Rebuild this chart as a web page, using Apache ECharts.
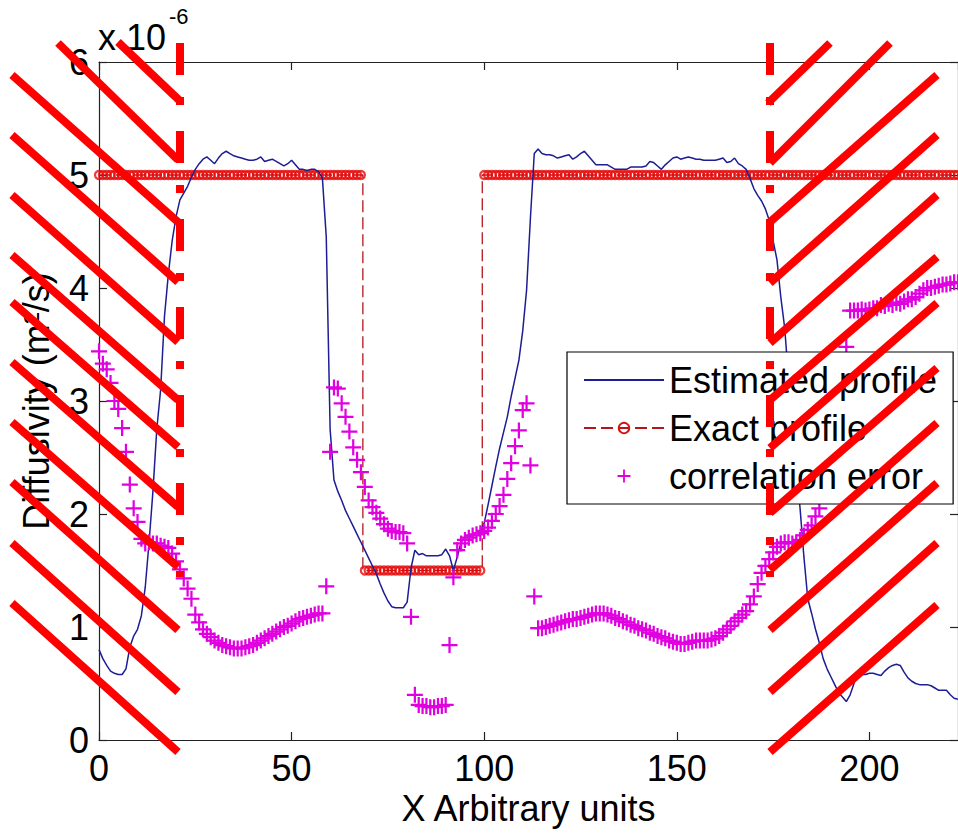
<!DOCTYPE html>
<html>
<head>
<meta charset="utf-8">
<script src="https://cdn.jsdelivr.net/npm/echarts@6/dist/echarts.min.js"></script>
<style>
html,body{margin:0;padding:0;background:#fff;}
#chart{width:958px;height:836px;}
</style>
</head>
<body>
<div id="chart"></div>
<script>
// ---- data (x = 0,1,2,... arbitrary units; y in units of 1e-6 m^2/s) ----
const estimated = [
0.80,0.72,0.66,0.61,0.59,0.58,0.58,0.63,0.82,0.92,
0.98,1.10,1.35,1.75,2.20,2.75,3.10,3.75,4.12,4.42,
4.63,4.78,4.84,4.90,4.98,5.05,5.10,5.14,5.16,5.13,
5.10,5.15,5.19,5.21,5.19,5.17,5.16,5.15,5.14,5.13,
5.13,5.14,5.16,5.12,5.13,5.14,5.12,5.10,5.08,5.10,
5.13,5.09,5.05,5.05,5.04,5.05,5.05,5.03,4.97,4.45,
2.75,2.30,2.20,2.12,2.03,1.96,1.89,1.82,1.75,1.68,
1.61,1.54,1.47,1.38,1.30,1.23,1.18,1.17,1.17,1.17,
1.22,1.52,1.68,1.64,1.65,1.63,1.63,1.63,1.63,1.64,
1.69,1.63,1.50,1.62,1.75,1.79,1.80,1.81,1.82,1.84,
1.92,2.08,2.25,2.42,2.58,2.72,2.86,3.04,3.20,3.36,
3.62,3.98,4.62,5.19,5.23,5.19,5.18,5.18,5.17,5.15,
5.16,5.17,5.18,5.14,5.16,5.19,5.21,5.17,5.13,5.09,
5.09,5.09,5.09,5.07,5.05,5.05,5.05,5.05,5.07,5.07,
5.07,5.07,5.08,5.12,5.11,5.08,5.05,5.09,5.12,5.15,
5.16,5.14,5.15,5.16,5.15,5.14,5.14,5.13,5.13,5.13,
5.13,5.14,5.15,5.11,5.12,5.15,5.10,5.08,5.05,4.97,
4.88,4.82,4.77,4.70,4.60,4.42,4.25,3.92,3.65,3.20,
2.80,2.40,2.05,1.62,1.25,1.12,0.98,0.86,0.72,0.63,
0.56,0.49,0.42,0.38,0.34,0.40,0.50,0.59,0.58,0.58,
0.59,0.59,0.58,0.57,0.61,0.64,0.66,0.67,0.66,0.60,
0.55,0.52,0.50,0.49,0.49,0.49,0.48,0.46,0.44,0.44,
0.44,0.40,0.37,0.36
];
const exact = [
5,5,5,5,5,5,5,5,5,5,
5,5,5,5,5,5,5,5,5,5,
5,5,5,5,5,5,5,5,5,5,
5,5,5,5,5,5,5,5,5,5,
5,5,5,5,5,5,5,5,5,5,
5,5,5,5,5,5,5,5,5,5,
5,5,5,5,5,5,5,5,5,1.5,
1.5,1.5,1.5,1.5,1.5,1.5,1.5,1.5,1.5,1.5,
1.5,1.5,1.5,1.5,1.5,1.5,1.5,1.5,1.5,1.5,
1.5,1.5,1.5,1.5,1.5,1.5,1.5,1.5,1.5,1.5,
5,5,5,5,5,5,5,5,5,5,
5,5,5,5,5,5,5,5,5,5,
5,5,5,5,5,5,5,5,5,5,
5,5,5,5,5,5,5,5,5,5,
5,5,5,5,5,5,5,5,5,5,
5,5,5,5,5,5,5,5,5,5,
5,5,5,5,5,5,5,5,5,5,
5,5,5,5,5,5,5,5,5,5,
5,5,5,5,5,5,5,5,5,5,
5,5,5,5,5,5,5,5,5,5,
5,5,5,5,5,5,5,5,5,5,
5,5,5,5,5,5,5,5,5,5,
5,5,5,5
];
const corrError = [
3.44,3.33,3.28,3.16,3.00,2.93,2.76,2.55,2.26,2.05,
1.93,1.78,1.74,1.75,1.74,1.74,1.72,1.71,1.70,1.65,
1.58,1.51,1.43,1.34,1.25,1.11,1.04,0.98,0.94,0.91,
0.88,0.86,0.84,0.83,0.82,0.81,0.81,0.81,0.82,0.83,
0.84,0.86,0.88,0.90,0.92,0.94,0.96,0.98,1.00,1.01,
1.03,1.05,1.07,1.08,1.09,1.10,1.11,1.12,1.12,1.36,
2.55,3.12,3.11,2.98,2.86,2.73,2.59,2.48,2.37,2.24,
2.12,2.06,2.01,1.96,1.91,1.87,1.85,1.84,1.84,1.83,
1.74,1.09,0.40,0.31,0.30,0.30,0.29,0.29,0.30,0.30,
0.31,0.84,1.44,1.68,1.74,1.77,1.79,1.81,1.82,1.83,
1.85,1.88,1.94,2.00,2.07,2.17,2.31,2.45,2.60,2.74,
2.92,2.98,2.43,1.27,0.99,0.99,1.00,1.01,1.02,1.03,
1.04,1.05,1.06,1.07,1.07,1.08,1.09,1.10,1.11,1.12,
1.12,1.12,1.11,1.10,1.08,1.07,1.05,1.04,1.02,1.01,
0.99,0.98,0.97,0.95,0.94,0.92,0.91,0.90,0.88,0.87,
0.86,0.85,0.85,0.86,0.87,0.88,0.88,0.88,0.88,0.89,
0.90,0.92,0.95,0.98,1.01,1.05,1.08,1.11,1.14,1.20,
1.27,1.38,1.48,1.54,1.60,1.66,1.71,1.74,1.75,1.75,
1.74,1.75,1.77,1.81,1.86,1.90,1.98,2.05,2.20,2.40,
2.65,2.90,3.15,3.30,3.48,3.80,3.80,3.80,3.81,3.80,
3.81,3.82,3.82,3.85,3.84,3.86,3.85,3.87,3.86,3.88,
3.90,3.90,3.92,3.95,3.98,4.00,4.00,4.01,4.02,4.03,
4.03,4.04,4.05,4.05
];
const seriesNames = ['Estimated profile', 'Exact profile', 'correlation error'];
const xTickStep = 50;
const xMax = 223;
const yMax = 6;
const yExponentBase = 'x 10';
const yExponent = '-6';

// ---- overlay annotation (red hatching drawn on top of the figure, pixel coords) ----
const hatchLeft = [
  [118,42,180,101],[58,43,178,160],[12,75,178,222],[12,135,178,282],[12,195,178,342],
  [12,255,178,400],[12,302,178,447],[12,362,178,507],[12,422,178,567],[12,482,178,630],
  [12,543,178,692],[12,603,178,752]
];
const hatchRight = [
  [768,103,830,43],[770,163,890,43],[770,222,937,75],[770,283,937,135],[770,343,937,195],
  [770,400,937,257],[770,448,937,303],[770,513,937,368],[770,570,937,423],[770,630,937,483],
  [770,692,937,543],[770,752,937,605]
];
const dashVerticals = [[180,43,180,577],[770,43,770,577]];

const FONT = "'Liberation Sans', Arial, sans-serif";
const pts = arr => arr.map((v, i) => [i, v]);

const graphic = [];
hatchLeft.concat(hatchRight).forEach(s => graphic.push({
  type: 'line', z: 100, silent: true,
  shape: {x1: s[0], y1: s[1], x2: s[2], y2: s[3]},
  style: {stroke: '#ff0000', lineWidth: 8, lineCap: 'butt'}
}));
dashVerticals.forEach(s => graphic.push({
  type: 'line', z: 100, silent: true,
  shape: {x1: s[0], y1: s[1], x2: s[2], y2: s[3]},
  style: {stroke: '#ff0000', lineWidth: 8, lineCap: 'butt', lineDash: [32, 22, 8, 26]}
}));
graphic.push({type: 'text', z: 50, left: 98, top: 19,
  style: {text: yExponentBase, font: "36px " + FONT, fill: '#000'}});
graphic.push({type: 'text', z: 50, left: 169, top: 5,
  style: {text: yExponent, font: "22px " + FONT, fill: '#000'}});

const axisCommon = {
  type: 'value',
  axisLine: {show: true, onZero: false, lineStyle: {color: '#222', width: 1.2}},
  axisTick: {show: true, inside: true, length: 8, lineStyle: {color: '#222', width: 1.2}},
  splitLine: {show: false}
};

const chart = echarts.init(document.getElementById('chart'), null, {renderer: 'svg'});
chart.setOption({
  animation: false,
  backgroundColor: '#fff',
  textStyle: {fontFamily: FONT},
  grid: {left: 99, top: 62, width: 860, height: 678, containLabel: false},
  xAxis: [
    Object.assign({}, axisCommon, {
      position: 'bottom', min: 0, max: xMax, interval: xTickStep,
      axisLabel: {fontSize: 36, color: '#000', margin: 10, showMaxLabel: false, fontFamily: FONT},
      name: 'X Arbitrary units', nameLocation: 'middle', nameGap: 50,
      nameTextStyle: {fontSize: 36, color: '#000', fontFamily: FONT}
    }),
    Object.assign({}, axisCommon, {
      position: 'top', min: 0, max: xMax, interval: xTickStep,
      axisLabel: {show: false}
    })
  ],
  yAxis: [
    Object.assign({}, axisCommon, {
      position: 'left', min: 0, max: yMax, interval: 1,
      axisLabel: {fontSize: 36, color: '#000', margin: 10, fontFamily: FONT},
      name: 'Diffusivity (m²/s)', nameLocation: 'middle', nameGap: 45,
      nameTextStyle: {fontSize: 36, color: '#000', fontFamily: FONT}
    }),
    Object.assign({}, axisCommon, {
      position: 'right', min: 0, max: yMax, interval: 1,
      axisLabel: {show: false}
    })
  ],
  legend: {
    orient: 'vertical', left: 567, top: 352,
    padding: [10, 16, 10, 16],
    itemWidth: 80, itemHeight: 13, itemGap: 12,
    backgroundColor: '#fff', borderColor: '#000', borderWidth: 1.2, borderRadius: 0,
    textStyle: {fontSize: 36, color: '#000', fontFamily: FONT},
    data: [
      {name: seriesNames[0], itemStyle: {color: 'rgba(0,0,0,0)', borderColor: 'rgba(0,0,0,0)', borderWidth: 0, opacity: 0}},
      {name: seriesNames[1]},
      {name: seriesNames[2]}
    ],
    z: 20
  },
  series: [
    {
      name: seriesNames[0], type: 'line', data: pts(estimated),
      symbol: 'none', showSymbol: false,
      lineStyle: {color: '#1d1d94', width: 1.5},
      itemStyle: {color: '#1d1d94'},
      z: 4
    },
    {
      name: seriesNames[1], type: 'line', data: pts(exact), step: 'middle',
      symbol: 'circle', symbolSize: 8, showSymbol: false,
      itemStyle: {color: 'rgba(255,255,255,0)', borderColor: '#d41414', borderWidth: 1.5},
      lineStyle: {color: '#b3171c', width: 1.3, type: [12, 5]},
      z: 2
    },
    {
      name: seriesNames[1], type: 'scatter', data: pts(exact),
      symbol: 'circle', symbolSize: 8,
      itemStyle: {color: 'rgba(255,255,255,0)', borderColor: '#e60a0a', borderWidth: 2.2},
      z: 3
    },
    {
      name: seriesNames[2], type: 'scatter', data: pts(corrError),
      symbol: 'path://M0,8.6H20V11.4H0ZM8.6,0H11.4V20H8.6Z', symbolSize: 16,
      itemStyle: {color: '#e000e0', opacity: 1},
      z: 5
    }
  ],
  graphic: graphic
});
</script>
</body>
</html>
